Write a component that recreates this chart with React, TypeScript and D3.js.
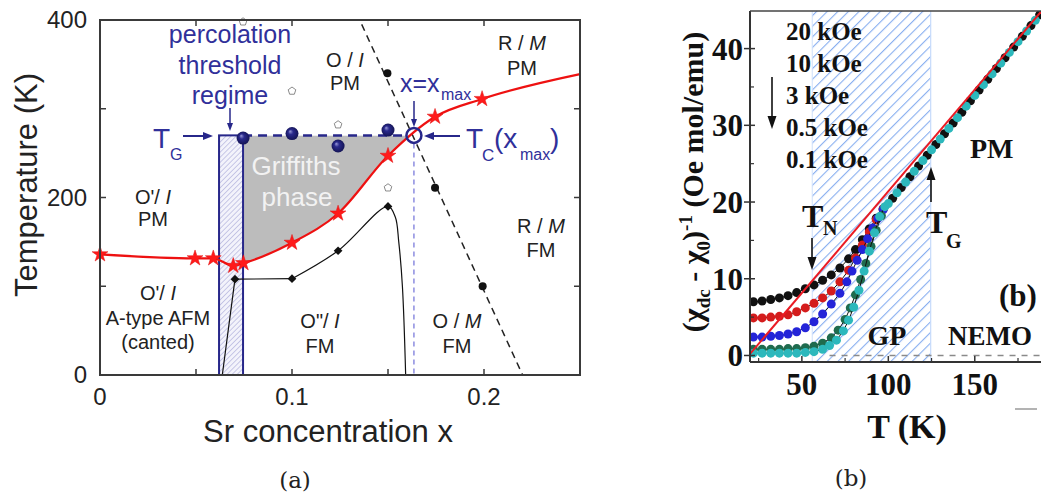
import React from "react";
import * as d3 from "d3";

// ---------- Panel (a) data ----------
const xTickLabelsA = [0, 0.1, 0.2];
const xTickMarksA = [0.05, 0.1, 0.15, 0.2];
const yTickLabelsA = [0, 200, 400];
const yTickMarksA = [100, 200, 300];

const tcStars: [number, number][] = [
  [0, 136], [0.0495, 131.5], [0.059, 131.5], [0.0694, 123], [0.0747, 126],
  [0.1, 149], [0.124, 182], [0.15, 247], [0.1745, 291], [0.199, 311],
];
const tcEnd: [number, number][] = [[0.25, 339]];
const fmDiamonds: [number, number][] = [[0.0703, 108], [0.1, 108.5], [0.124, 140], [0.15, 190]];
const afmBoundary: [number, number][] = [[0.0637, 0], [0.0703, 108], [0.1, 108.5]];
const fmBoundary: [number, number][] = [
  [0.1, 108.5], [0.124, 140], [0.15, 190], [0.1538, 178],
  [0.1556, 150], [0.1575, 100], [0.1592, 0],
];
const structLine: [number, number][] = [[0.1363, 395], [0.2201, 0]];
const structDots: [number, number][] = [[0.1497, 340], [0.1745, 211], [0.1993, 100]];
const openPts: [number, number][] = [[0.0745, 398], [0.1, 320], [0.124, 282], [0.15, 211]];
const tgSpheres: [number, number][] = [[0.0745, 267], [0.1, 272], [0.124, 258], [0.15, 276]];
const TG = 270;
const percolation = [0.062, 0.0745];
const xMax = 0.1635;

// ---------- Panel (b) data ----------
const xTickLabelsB = [50, 100, 150];
const xMinorB = [25, 75, 125, 175];
const yTickLabelsB = [0, 10, 20, 30, 40];
const yMinorB = [5, 15, 25, 35];
const fields = ["20 kOe", "10 kOe", "3 kOe", "0.5 kOe", "0.1 kOe"];
const curieWeiss: [number, number][] = [[20, 0.2], [188.3, 44.8]];
const gpRegion = [56, 124.5];

const s20k: [number, number][] = [
  [22, 7.0], [27, 7.1], [32, 7.3], [37, 7.5], [42, 7.8], [47, 8.2], [52, 8.7], [57, 9.2],
  [62, 9.8], [67, 10.5], [72, 11.4], [77, 12.6], [81, 13.8], [85, 15.1], [89, 16.5],
  [93, 17.9], [97, 19.1], [102.5, 20.5], [107.5, 21.9], [112.5, 23.3], [117.5, 24.7],
  [122.5, 26.1], [127.5, 27.5], [132.5, 28.9], [137.5, 30.3], [142.5, 31.7], [147.5, 33.2],
  [152.5, 34.6], [157.5, 36.0], [162.5, 37.4], [167.5, 38.8], [172.5, 40.2], [177.5, 41.6],
  [182.5, 43.0], [187.5, 44.4],
];
const s10k: [number, number][] = [
  [22, 4.9], [27, 4.9], [32, 5.0], [37, 5.1], [42, 5.3], [47, 5.7], [52, 6.2], [57, 6.8],
  [62, 7.5], [67, 8.4], [72, 9.6], [77, 11.1], [81, 12.7], [85, 14.4], [89, 16.1], [93, 17.7], [97, 19.1],
];
const s3k: [number, number][] = [
  [22, 2.4], [27, 2.4], [32, 2.5], [37, 2.6], [42, 2.8], [47, 3.1], [52, 3.6], [57, 4.4],
  [62, 5.4], [67, 6.7], [72, 8.1], [76, 9.6], [79, 11.0], [82, 12.4], [85, 13.8], [88, 15.2],
  [91, 16.6], [94, 17.9], [97, 19.0],
];
const s05k: [number, number][] = [
  [22, 0.8], [27, 0.8], [32, 0.8], [37, 0.8], [42, 0.9], [47, 0.9], [52, 1.0], [57, 1.2],
  [62, 1.6], [67, 2.3], [71, 3.3], [75, 4.7], [78, 6.2], [81, 7.9], [84, 9.9], [87, 12.0],
  [90, 14.2], [93, 16.3], [96, 18.2],
];
const s01k: [number, number][] = [
  [22, 0.3], [27, 0.3], [32, 0.3], [37, 0.3], [42, 0.3], [47, 0.3], [52, 0.4], [57, 0.5],
  [62, 0.8], [66, 1.3], [70, 2.0], [74, 3.2], [77, 4.6], [80, 6.3], [83, 8.5], [86, 11.0],
  [89, 13.6], [92, 16.0], [95, 18.1], [98, 19.4], [100, 19.8], [105, 21.2], [110, 22.6],
  [115, 24.0], [120, 25.4], [125, 26.8], [130, 28.2], [135, 29.6], [140, 31.0], [145, 32.5],
  [150, 33.9], [155, 35.3], [160, 36.7], [165, 38.1], [170, 39.5], [175, 40.9], [180, 42.3],
  [185, 43.7],
];
const seriesB = [s20k, s10k, s3k, s05k, s01k];
const seriesColors = ["#111111", "#d41c1c", "#2424d8", "#1f6b4e", "#2cb8bc"];

// ---------- scales ----------
const xA = d3.scaleLinear().domain([0, 0.25]).range([100, 580]);
const yA = d3.scaleLinear().domain([0, 400]).range([375, 20]);
const xB = d3.scaleLinear().domain([20, 188.3]).range([750, 1041]);
const yB = d3.scaleLinear().domain([-0.85, 44.9]).range([362, 11]);

const SANS = "'Liberation Sans', Arial, Helvetica, sans-serif";
const SERIF = "'Liberation Serif', 'Times New Roman', serif";
const BLUE = "#27278a";
const BLUE_TXT = "#30309a";

function Arrow(props: { x1: number; y1: number; x2: number; y2: number; color: string; w: number; hl: number; hw: number }) {
  const { x1, y1, x2, y2, color, w, hl, hw } = props;
  const dx = x2 - x1, dy = y2 - y1, L = Math.hypot(dx, dy);
  const ux = dx / L, uy = dy / L;
  const bx = x2 - ux * hl, by = y2 - uy * hl;
  const px = -uy, py = ux;
  return (
    <g>
      <line x1={x1} y1={y1} x2={bx + ux * 1} y2={by + uy * 1} stroke={color} strokeWidth={w} />
      <polygon
        points={`${x2},${y2} ${bx + (px * hw) / 2},${by + (py * hw) / 2} ${bx - (px * hw) / 2},${by - (py * hw) / 2}`}
        fill={color}
      />
    </g>
  );
}

function pentagon(cx: number, cy: number, r: number) {
  const pts: string[] = [];
  for (let i = 0; i < 5; i++) {
    const a = -Math.PI / 2 + (i * 2 * Math.PI) / 5;
    pts.push(`${cx + r * Math.cos(a)},${cy + r * Math.sin(a)}`);
  }
  return pts.join(" ");
}

export default function App() {
  const tcAll = [...tcStars, ...tcEnd];
  const tcLine = d3.line<[number, number]>().x((d) => xA(d[0])).y((d) => yA(d[1])).curve(d3.curveMonotoneX);
  const gpArea = d3
    .area<[number, number]>()
    .x((d) => xA(d[0]))
    .y0(yA(TG))
    .y1((d) => yA(d[1]))
    .curve(d3.curveMonotoneX);
  const boundLine = d3.line<[number, number]>().x((d) => xA(d[0])).y((d) => yA(d[1])).curve(d3.curveCatmullRom.alpha(0.5));
  const straightA = d3.line<[number, number]>().x((d) => xA(d[0])).y((d) => yA(d[1]));
  const lineB = d3.line<[number, number]>().x((d) => xB(d[0])).y((d) => yB(d[1]));
  const starPath = d3.symbol().type(d3.symbolStar).size(78)() as string;
  const diamondPath = d3.symbol().type(d3.symbolSquare).size(38)() as string;

  const frameA = { x0: xA(0), x1: xA(0.25), y0: yA(400), y1: yA(0) };
  const frameB = { x0: xB(20), x1: xB(188.3), y0: yB(44.9), y1: yB(-0.85) };

  return (
    <svg width={1041} height={497} style={{ position: "absolute", left: 0, top: 0, background: "#fff" }}>
      <defs>
        <pattern id="hatchA" patternUnits="userSpaceOnUse" width={3.6} height={3.6} patternTransform="rotate(45)">
          <rect width={3.6} height={3.6} fill="#f3f3fb" />
          <line x1={0} y1={0} x2={0} y2={3.6} stroke="#9a9ad2" strokeWidth={1} />
        </pattern>
        <pattern id="hatchB" patternUnits="userSpaceOnUse" width={7.5} height={7.5} patternTransform="rotate(45)">
          <rect width={7.5} height={7.5} fill="#ffffff" />
          <line x1={0} y1={0} x2={0} y2={7.5} stroke="#88aef0" strokeWidth={2.2} />
        </pattern>
        <radialGradient id="sphere" cx="50%" cy="50%" r="55%" fx="35%" fy="32%">
          <stop offset="0%" stopColor="#9a9ad8" />
          <stop offset="35%" stopColor="#2a2a8c" />
          <stop offset="100%" stopColor="#12124f" />
        </radialGradient>
        <clipPath id="gpClip">
          <rect x={xA(percolation[1])} y={yA(TG)} width={xA(xMax) - xA(percolation[1])} height={yA(0) - yA(TG)} />
        </clipPath>
        <clipPath id="frameAClip">
          <rect x={frameA.x0} y={frameA.y0} width={frameA.x1 - frameA.x0} height={frameA.y1 - frameA.y0} />
        </clipPath>
        <clipPath id="frameBClip">
          <rect x={frameB.x0} y={frameB.y0} width={frameB.x1 - frameB.x0} height={frameB.y1 - frameB.y0} />
        </clipPath>
      </defs>

      {/* ================= Panel (a) ================= */}
      <g fontFamily={SANS}>
        <path d={gpArea(tcAll) as string} fill="#bcbcbc" clipPath="url(#gpClip)" />
        <rect
          x={xA(percolation[0])}
          y={yA(TG)}
          width={xA(percolation[1]) - xA(percolation[0])}
          height={yA(0) - yA(TG)}
          fill="url(#hatchA)"
          stroke={BLUE}
          strokeWidth={2}
        />
        <text x={296} y={175} textAnchor="middle" fontSize={26} fill="#f2f2f2">Griffiths</text>
        <text x={297} y={206} textAnchor="middle" fontSize={26} fill="#f2f2f2">phase</text>

        <line x1={xA(xMax)} x2={xA(xMax)} y1={yA(TG) + 8} y2={yA(0)} stroke="#8c8ce0" strokeWidth={1.5} strokeDasharray="5,4" />
        <path d={straightA(structLine) as string} fill="none" stroke="#222" strokeWidth={1.5} strokeDasharray="7,5" />
        <path d={straightA(afmBoundary) as string} fill="none" stroke="#111" strokeWidth={1.2} />
        <path d={boundLine(fmBoundary) as string} fill="none" stroke="#111" strokeWidth={1.2} clipPath="url(#frameAClip)" />
        <line x1={xA(percolation[1])} x2={xA(xMax) - 7} y1={yA(TG)} y2={yA(TG)} stroke={BLUE} strokeWidth={2.5} strokeDasharray="9,6" />
        <path d={tcLine(tcAll) as string} fill="none" stroke="#ee1111" strokeWidth={2.2} />

        {fmDiamonds.map((d, i) => (
          <path key={"dm" + i} d={diamondPath} transform={`translate(${xA(d[0])},${yA(d[1])}) rotate(45)`} fill="#111" />
        ))}
        {structDots.map((d, i) => (
          <circle key={"sd" + i} cx={xA(d[0])} cy={yA(d[1])} r={4} fill="#111" />
        ))}
        {openPts.map((d, i) => (
          <polygon key={"op" + i} points={pentagon(xA(d[0]), yA(d[1]), 4)} fill="#fff" stroke="#8a8a8a" strokeWidth={1} />
        ))}
        {tcStars.map((d, i) => (
          <path key={"st" + i} d={starPath} transform={`translate(${xA(d[0])},${yA(d[1])})`} fill="#ff1a1a" stroke="#e01010" strokeWidth={0.5} />
        ))}
        {tgSpheres.map((d, i) => (
          <circle key={"sp" + i} cx={xA(d[0])} cy={yA(d[1])} r={6.5} fill="url(#sphere)" />
        ))}
        <circle cx={xA(xMax)} cy={yA(TG)} r={7.5} fill="none" stroke={BLUE} strokeWidth={2.5} />

        <rect x={frameA.x0} y={frameA.y0} width={frameA.x1 - frameA.x0} height={frameA.y1 - frameA.y0} fill="none" stroke="#3a3a3a" strokeWidth={2} />
        {xTickMarksA.map((t, i) => (
          <g key={"xta" + i}>
            <line x1={xA(t)} x2={xA(t)} y1={frameA.y1} y2={frameA.y1 - 6} stroke="#3a3a3a" strokeWidth={1.5} />
            <line x1={xA(t)} x2={xA(t)} y1={frameA.y0} y2={frameA.y0 + 6} stroke="#3a3a3a" strokeWidth={1.5} />
          </g>
        ))}
        {yTickMarksA.map((t, i) => (
          <g key={"yta" + i}>
            <line x1={frameA.x0} x2={frameA.x0 + 6} y1={yA(t)} y2={yA(t)} stroke="#3a3a3a" strokeWidth={1.5} />
            <line x1={frameA.x1} x2={frameA.x1 - 6} y1={yA(t)} y2={yA(t)} stroke="#3a3a3a" strokeWidth={1.5} />
          </g>
        ))}
        {xTickLabelsA.map((t, i) => (
          <text key={"xla" + i} x={xA(t)} y={405} textAnchor="middle" fontSize={24} fill="#222">{String(t)}</text>
        ))}
        {yTickLabelsA.map((t, i) => (
          <text key={"yla" + i} x={87} y={yA(t) + 8} textAnchor="end" fontSize={24} fill="#222">{String(t)}</text>
        ))}
        <text x={328} y={442} textAnchor="middle" fontSize={31} fill="#222">Sr concentration x</text>
        <text transform="translate(37,185) rotate(-90)" textAnchor="middle" fontSize={31} fill="#222">Temperature (K)</text>

        <g fontSize={20} fill="#222" textAnchor="middle">
          <text x={345} y={67}>O / <tspan fontStyle="italic">I</tspan></text>
          <text x={345} y={90}>PM</text>
          <text x={522} y={50}>R / <tspan fontStyle="italic">M</tspan></text>
          <text x={522} y={75}>PM</text>
          <text x={153} y={204}>O'/ <tspan fontStyle="italic">I</tspan></text>
          <text x={153} y={226}>PM</text>
          <text x={541} y={233}>R / <tspan fontStyle="italic">M</tspan></text>
          <text x={541} y={257}>FM</text>
          <text x={158} y={300}>O'/ <tspan fontStyle="italic">I</tspan></text>
          <text x={158} y={325}>A-type AFM</text>
          <text x={158} y={349}>(canted)</text>
          <text x={320} y={328}>O"/ <tspan fontStyle="italic">I</tspan></text>
          <text x={320} y={353}>FM</text>
          <text x={457} y={328}>O / <tspan fontStyle="italic">M</tspan></text>
          <text x={457} y={353}>FM</text>
        </g>

        <g fill={BLUE_TXT} textAnchor="middle" fontSize={25}>
          <text x={230} y={43}>percolation</text>
          <text x={230} y={74}>threshold</text>
          <text x={230} y={104}>regime</text>
        </g>
        <Arrow x1={230} y1={108} x2={230} y2={131} color={BLUE} w={1.5} hl={8} hw={6} />
        <text x={153} y={148} fontSize={28} fill={BLUE_TXT}>T</text>
        <text x={170} y={160} fontSize={16} fill={BLUE_TXT}>G</text>
        <Arrow x1={183} y1={136} x2={213} y2={136} color={BLUE} w={2} hl={10} hw={8} />
        <text x={400} y={92} fontSize={25} fill={BLUE_TXT}>x=x</text>
        <text x={441} y={100} fontSize={16} fill={BLUE_TXT}>max</text>
        <Arrow x1={414} y1={101} x2={414} y2={127} color={BLUE} w={1.5} hl={8} hw={6} />
        <Arrow x1={460} y1={136} x2={424} y2={136} color={BLUE} w={2} hl={10} hw={8} />
        <text x={466} y={148} fontSize={28} fill={BLUE_TXT}>T</text>
        <text x={482} y={161} fontSize={17} fill={BLUE_TXT}>C</text>
        <text x={494} y={148} fontSize={28} fill={BLUE_TXT}>(x</text>
        <text x={520} y={160} fontSize={16} fill={BLUE_TXT}>max</text>
        <text x={550} y={148} fontSize={28} fill={BLUE_TXT}>)</text>
      </g>
      <text x={295} y={488} textAnchor="middle" fontSize={23} fontFamily="'DejaVu Serif', serif" fill="#222">(a)</text>

      {/* ================= Panel (b) ================= */}
      <g fontFamily={SERIF} fontWeight="bold">
        <rect
          x={xB(gpRegion[0])}
          y={frameB.y0}
          width={xB(gpRegion[1]) - xB(gpRegion[0])}
          height={frameB.y1 - frameB.y0}
          fill="url(#hatchB)"
        />
        <line x1={xB(gpRegion[0])} x2={xB(gpRegion[0])} y1={frameB.y0} y2={frameB.y1} stroke="#cfe0fb" strokeWidth={1} />
        <line x1={xB(gpRegion[1])} x2={xB(gpRegion[1])} y1={frameB.y0} y2={frameB.y1} stroke="#c6dafb" strokeWidth={1.2} />
        <line x1={xB(66)} x2={frameB.x1} y1={yB(0)} y2={yB(0)} stroke="#8a8a8a" strokeWidth={1.5} strokeDasharray="6,6" />

        <g clipPath="url(#frameBClip)">
          {seriesB.map((s, i) => (
            <g key={"ser" + i}>
              <path d={lineB(s) as string} fill="none" stroke="#111" strokeWidth={1} />
              {s.map((d, j) => (
                <circle key={j} cx={xB(d[0])} cy={yB(d[1])} r={4.5} fill={seriesColors[i]} />
              ))}
            </g>
          ))}
          <path d={lineB(curieWeiss) as string} fill="none" stroke="#ea1b24" strokeWidth={2} />
        </g>

        <line x1={frameB.x0} x2={frameB.x0} y1={frameB.y0} y2={frameB.y1} stroke="#333" strokeWidth={2} />
        <line x1={frameB.x0} x2={frameB.x1} y1={frameB.y1} y2={frameB.y1} stroke="#333" strokeWidth={2} />
        <line x1={frameB.x0} x2={frameB.x1} y1={frameB.y0} y2={frameB.y0} stroke="#444" strokeWidth={1.5} />
        {yTickLabelsB.map((t, i) => (
          <g key={"ytb" + i}>
            <line x1={frameB.x0 - 6} x2={frameB.x0 + 5} y1={yB(t)} y2={yB(t)} stroke="#333" strokeWidth={1.5} />
            <text x={743} y={yB(t) + 11} textAnchor="end" fontSize={31} fill="#111">{String(t)}</text>
          </g>
        ))}
        {yMinorB.map((t, i) => (
          <line key={"ymb" + i} x1={frameB.x0} x2={frameB.x0 + 4} y1={yB(t)} y2={yB(t)} stroke="#333" strokeWidth={1.2} />
        ))}
        {xTickLabelsB.map((t, i) => (
          <g key={"xtb" + i}>
            <line x1={xB(t)} x2={xB(t)} y1={frameB.y1} y2={frameB.y1 - 6} stroke="#333" strokeWidth={1.5} />
            <text x={xB(t)} y={395} textAnchor="middle" fontSize={31} fill="#111">{String(t)}</text>
          </g>
        ))}
        {xMinorB.map((t, i) => (
          <line key={"xmb" + i} x1={xB(t)} x2={xB(t)} y1={frameB.y1} y2={frameB.y1 - 4} stroke="#333" strokeWidth={1.2} />
        ))}
        <line x1={1015} x2={1037} y1={409} y2={409} stroke="#9a9a9a" strokeWidth={1.5} />
        <text x={907} y={438} textAnchor="middle" fontSize={34} fill="#111">T (K)</text>
        <text transform="translate(703,182) rotate(-90)" textAnchor="middle" fontSize={30} fill="#111">
          (χ<tspan dy={7} fontSize={19}>dc</tspan>
          <tspan dy={-7}> - χ</tspan>
          <tspan dy={7} fontSize={19}>0</tspan>
          <tspan dy={-7}>)</tspan>
          <tspan dy={-11} fontSize={19}>-1</tspan>
          <tspan dy={11}> (Oe mol/emu)</tspan>
        </text>

        {fields.map((f, i) => (
          <text key={"fl" + i} x={786} y={40 + i * 32} fontSize={25} fill="#111">{f}</text>
        ))}
        <Arrow x1={772} y1={77} x2={772} y2={129} color="#111" w={1.6} hl={13} hw={9} />
        <text x={970} y={158} fontSize={28} fill="#111">PM</text>
        <text x={802} y={227} fontSize={32} fill="#111">T</text>
        <text x={823} y={235} fontSize={20} fill="#111">N</text>
        <Arrow x1={812} y1={238} x2={812} y2={270} color="#111" w={1.6} hl={13} hw={9} />
        <text x={926} y={233} fontSize={32} fill="#111">T</text>
        <text x={946} y={248} fontSize={20} fill="#111">G</text>
        <Arrow x1={931} y1={202} x2={931} y2={167} color="#111" w={1.6} hl={13} hw={9} />
        <text x={1018} y={306} textAnchor="middle" fontSize={31} fill="#111">(b)</text>
        <text x={887} y={345} textAnchor="middle" fontSize={28} fill="#111">GP</text>
        <text x={990} y={345} textAnchor="middle" fontSize={27} fill="#111">NEMO</text>
      </g>
      <text x={851} y={486} textAnchor="middle" fontSize={23} fontFamily="'DejaVu Serif', serif" fill="#222">(b)</text>
    </svg>
  );
}
